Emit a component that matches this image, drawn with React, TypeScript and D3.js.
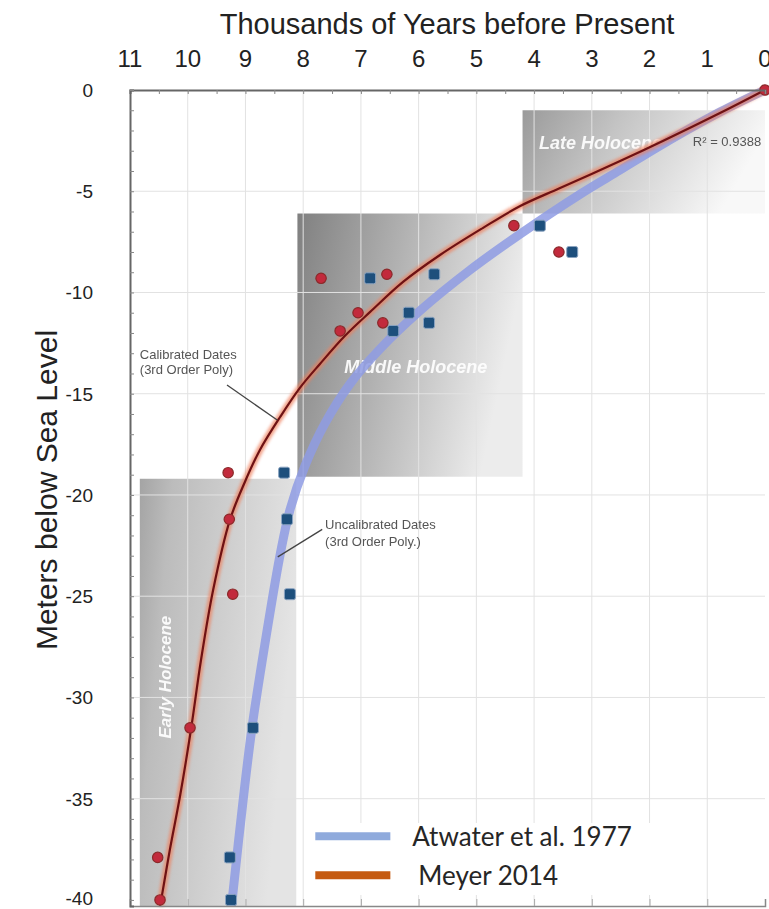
// @ts-nocheck
import React, { useEffect, useRef } from "react";
import * as d3 from "d3";

// axis ticks
const AGE_TICKS = d3.range(0, 12);
const DEPTH_TICKS = [0, -5, -10, -15, -20, -25, -30, -35, -40];

// Meyer 2014 (calibrated) samples: age in kyr BP, depth in m
const meyerAge = [0, 4.35, 3.57, 7.69, 6.55, 7.05, 7.36, 6.62, 9.3, 9.28, 9.22, 9.96, 10.52, 10.48];
const meyerDepth = [0, -6.7, -8.0, -9.3, -9.1, -11.0, -11.9, -11.5, -18.9, -21.2, -24.9, -31.5, -37.9, -40];

// Atwater et al. 1977 (uncalibrated) samples
const atwaterAge = [3.9, 3.34, 6.84, 5.73, 6.17, 6.44, 5.82, 8.33, 8.28, 8.23, 8.87, 9.27, 9.25];
const atwaterDepth = [-6.7, -8.0, -9.3, -9.1, -11.0, -11.9, -11.5, -18.9, -21.2, -24.9, -31.5, -37.9, -40];

// fitted 3rd order curves
const meyerFitAge = [0, 0.78, 1.77, 2.51, 3.55, 4.24, 4.89, 5.63, 6.27, 6.84, 7.28, 7.71, 8.06, 8.4, 8.75, 9.01, 9.27, 9.56, 9.77, 9.94, 10.13, 10.31, 10.46, 10.48];
const meyerFitDepth = [0, -1.14, -2.52, -3.51, -4.84, -5.73, -6.82, -8.15, -9.48, -10.96, -12.15, -13.53, -14.72, -16.15, -17.78, -19.36, -21.24, -24.69, -28.15, -31.51, -34.82, -37.53, -40.0, -40.3];
const atwaterFitAge = [0, 0.78, 1.77, 2.51, 3.2, 4.24, 5.11, 5.98, 6.67, 7.19, 7.62, 7.97, 8.23, 8.4, 8.68, 8.89, 9.04, 9.23, 9.24];
const atwaterFitDepth = [0, -1.09, -2.67, -3.95, -5.14, -7.11, -8.89, -10.91, -12.79, -14.52, -16.45, -18.57, -20.74, -22.96, -27.66, -31.56, -35.06, -40.0, -40.3];

// holocene periods: [label, oldest kyr, youngest kyr, top m, bottom m]
const periods = [
  ["Early Holocene", 10.83, 8.12, -19.2, -40.3],
  ["Middle Holocene", 8.1, 4.2, -6.1, -19.1],
  ["Late Holocene", 4.2, 0.0, -1.0, -6.1],
];

const legendItems = [
  ["Atwater et al. 1977", "#8faadc"],
  ["Meyer 2014", "#c55a11"],
];

function App() {
  const ref = useRef(null);

  useEffect(() => {
    document.body.style.margin = "0";
    const svg = d3.select(ref.current);
    svg.selectAll("*").remove();

    const left = 130, right = 765, top = 90, bottom = 906;
    const x = d3.scaleLinear().domain([11, 0]).range([left, right]);
    const y = d3.scaleLinear().domain([0, -40.3]).range([top, bottom]);
    const font = "Liberation Sans, Arial, sans-serif";

    const defs = svg.append("defs");
    const gradStops = [
      ["grad0", [["0%", "#a4a4a4"], ["20%", "#bcbcbc"], ["100%", "#e4e4e4"]]],
      ["grad1", [["0%", "#808080"], ["45%", "#b0b0b0"], ["100%", "#ececec"]]],
      ["grad2", [["0%", "#9a9a9a"], ["40%", "#c4c4c4"], ["100%", "#f8f8f8"]]],
    ];
    gradStops.forEach(([id, stops]) => {
      const g = defs.append("linearGradient").attr("id", id).attr("x1", 0).attr("x2", 1).attr("y1", 0).attr("y2", 0.25);
      stops.forEach((s) => g.append("stop").attr("offset", s[0]).attr("stop-color", s[1]));
    });
    const glow = defs.append("filter").attr("id", "glow").attr("x", "-5%").attr("y", "-5%").attr("width", "110%").attr("height", "110%");
    glow.append("feGaussianBlur").attr("stdDeviation", 1.5);
    const soft = defs.append("filter").attr("id", "soft").attr("x", "-5%").attr("y", "-5%").attr("width", "110%").attr("height", "110%");
    soft.append("feGaussianBlur").attr("stdDeviation", 0.7);

    // background
    svg.append("rect").attr("x", left).attr("y", top).attr("width", right - left).attr("height", bottom - top).attr("fill", "#fff");

    // period boxes
    svg.selectAll("rect.period").data(periods).enter().append("rect")
      .attr("class", "period")
      .attr("x", (d) => x(d[1]))
      .attr("y", (d) => y(d[3]))
      .attr("width", (d) => x(d[2]) - x(d[1]))
      .attr("height", (d) => y(d[4]) - y(d[3]))
      .attr("fill", (d, i) => `url(#grad${i})`);

    // gridlines
    const grid = svg.append("g");
    grid.selectAll("line.v").data(AGE_TICKS.filter((d) => d > 0 && d < 11)).enter().append("line")
      .attr("x1", (d) => x(d)).attr("x2", (d) => x(d)).attr("y1", top).attr("y2", bottom)
      .attr("stroke", "#e2e2e2").attr("stroke-width", 1);
    grid.selectAll("line.h").data(DEPTH_TICKS.filter((d) => d < 0 && d > -40)).enter().append("line")
      .attr("x1", left).attr("x2", right).attr("y1", (d) => y(d)).attr("y2", (d) => y(d))
      .attr("stroke", "#e2e2e2").attr("stroke-width", 1);

    // period labels
    const labelStyle = (sel) => sel.attr("fill", "#fff").attr("font-family", font)
      .attr("font-style", "italic").attr("font-weight", "bold").attr("font-size", 18).attr("opacity", 0.92);
    svg.append("text").text(periods[0][0]).call(labelStyle)
      .attr("font-size", 17).attr("text-anchor", "middle")
      .attr("transform", `translate(${x(10.29)},${y(-29.0)}) rotate(-90)`);
    svg.append("text").text(periods[1][0]).call(labelStyle)
      .attr("text-anchor", "middle").attr("x", x(6.05)).attr("y", y(-13.98));
    svg.append("text").text(periods[2][0]).call(labelStyle)
      .attr("text-anchor", "middle").attr("x", x(2.85)).attr("y", y(-2.9));
    svg.append("text").text("R\u00b2 = 0.9388")
      .attr("x", x(1.25)).attr("y", y(-2.77))
      .attr("font-family", font).attr("font-size", 13).attr("fill", "#555").attr("filter", "url(#soft)");

    // fitted curves
    const line = d3.line().x((d) => x(d[0])).y((d) => y(d[1])).curve(d3.curveCatmullRom.alpha(0.5));
    const atwaterFit = atwaterFitAge.map((a, i) => [a, atwaterFitDepth[i]]);
    const meyerFit = meyerFitAge.map((a, i) => [a, meyerFitDepth[i]]);
    svg.append("path").attr("d", line(atwaterFit)).attr("fill", "none")
      .attr("stroke", "#8f9ce4").attr("stroke-width", 9).attr("opacity", 0.85).attr("filter", "url(#soft)");
    svg.append("path").attr("d", line(meyerFit)).attr("fill", "none")
      .attr("stroke", "#ef7f5c").attr("stroke-width", 7).attr("opacity", 0.7).attr("filter", "url(#glow)");
    svg.append("path").attr("d", line(meyerFit)).attr("fill", "none")
      .attr("stroke", "#6e1214").attr("stroke-width", 2.2);

    // annotations
    const annStyle = (sel) => sel.attr("font-family", font).attr("font-size", 13).attr("fill", "#555").attr("filter", "url(#soft)");
    svg.append("line").attr("x1", x(9.32)).attr("y1", y(-14.57)).attr("x2", x(8.45)).attr("y2", y(-16.3))
      .attr("stroke", "#444").attr("stroke-width", 1.3);
    const cal = svg.append("text").call(annStyle);
    cal.append("tspan").attr("x", x(10.83)).attr("y", y(-13.28)).text("Calibrated Dates");
    cal.append("tspan").attr("x", x(10.83)).attr("y", y(-14.02)).text("(3rd Order Poly)");
    svg.append("line").attr("x1", x(7.67)).attr("y1", y(-21.7)).attr("x2", x(8.44)).attr("y2", y(-23.06))
      .attr("stroke", "#444").attr("stroke-width", 1.3);
    const unc = svg.append("text").call(annStyle);
    unc.append("tspan").attr("x", x(7.62)).attr("y", y(-21.67)).text("Uncalibrated Dates");
    unc.append("tspan").attr("x", x(7.62)).attr("y", y(-22.52)).text("(3rd Order Poly.)");

    // sample points
    svg.selectAll("rect.atw").data(atwaterAge.map((a, i) => [a, atwaterDepth[i]])).enter().append("rect")
      .attr("x", (d) => x(d[0]) - 5.5).attr("y", (d) => y(d[1]) - 5.5).attr("width", 11).attr("height", 11).attr("rx", 2)
      .attr("fill", "#1d4f7c").attr("stroke", "#8aa3c0").attr("stroke-width", 1);
    svg.selectAll("circle.mey").data(meyerAge.map((a, i) => [a, meyerDepth[i]])).enter().append("circle")
      .attr("cx", (d) => x(d[0])).attr("cy", (d) => y(d[1])).attr("r", 5.2)
      .attr("fill", "#c22a3c").attr("stroke", "#8a2a2a").attr("stroke-width", 1.2);

    // legend
    const lg = svg.append("g");
    lg.append("rect").attr("x", x(7.7)).attr("y", y(-36.2)).attr("width", 360).attr("height", 72).attr("fill", "#fff");
    lg.selectAll("line").data(legendItems).enter().append("line")
      .attr("x1", x(7.79)).attr("x2", x(6.49))
      .attr("y1", (d, i) => y(-36.85 - i * 1.93)).attr("y2", (d, i) => y(-36.85 - i * 1.93))
      .attr("stroke", (d) => d[1]).attr("stroke-width", 8);
    lg.selectAll("text").data(legendItems).enter().append("text")
      .attr("x", (d, i) => x(6.11) + i * 6).attr("y", (d, i) => y(-36.85 - i * 1.93)).attr("dy", "0.36em")
      .attr("font-family", "Lato, Carlito, sans-serif").attr("font-size", 26).attr("fill", "#262626")
      .text((d) => d[0]);

    // axes
    const topAxis = svg.append("g").attr("transform", `translate(0,${top})`)
      .call(d3.axisTop(x).tickValues(d3.range(0, 11.01, 0.5)).tickSize(-4).tickFormat(""));
    topAxis.select(".domain").attr("stroke", "#666").attr("stroke-width", 2);
    topAxis.selectAll(".tick line").attr("stroke", "#888");
    svg.append("g").selectAll("text").data(AGE_TICKS).enter().append("text")
      .attr("x", (d) => x(d)).attr("y", 67).attr("text-anchor", "middle")
      .attr("font-family", font).attr("font-size", 24).attr("fill", "#222")
      .text((d) => d);

    const bottomAxis = svg.append("g").attr("transform", `translate(0,${bottom})`)
      .call(d3.axisBottom(x).tickValues(d3.range(1, 11)).tickSize(-7).tickFormat(""));
    bottomAxis.select(".domain").attr("stroke", "#888").attr("stroke-width", 1.5);
    bottomAxis.selectAll(".tick line").attr("stroke", "#aaa");

    const leftAxis = svg.append("g").attr("transform", `translate(${left},0)`)
      .call(d3.axisLeft(y).tickValues(d3.range(0, -40.5, -1)).tickSize(-4).tickFormat(""));
    leftAxis.select(".domain").attr("stroke", "#666").attr("stroke-width", 2);
    leftAxis.selectAll(".tick line").attr("stroke", "#888");
    svg.append("g").selectAll("text").data(DEPTH_TICKS).enter().append("text")
      .attr("x", 93).attr("y", (d) => y(d)).attr("dy", (d) => (d === -40 ? "0.28em" : "0.36em")).attr("text-anchor", "end")
      .attr("font-family", font).attr("font-size", 19).attr("fill", "#222")
      .text((d) => d);

    // titles
    svg.append("text").text("Thousands of Years before Present")
      .attr("x", 447).attr("y", 34).attr("text-anchor", "middle")
      .attr("font-family", font).attr("font-size", 29).attr("fill", "#222");
    svg.append("text").text("Meters below Sea Level")
      .attr("transform", `translate(57,490) rotate(-90)`).attr("text-anchor", "middle")
      .attr("font-family", font).attr("font-size", 30).attr("fill", "#222");
  }, []);

  return <svg ref={ref} width={769} height={909} style={{ display: "block" }}></svg>;
}

export default App;
